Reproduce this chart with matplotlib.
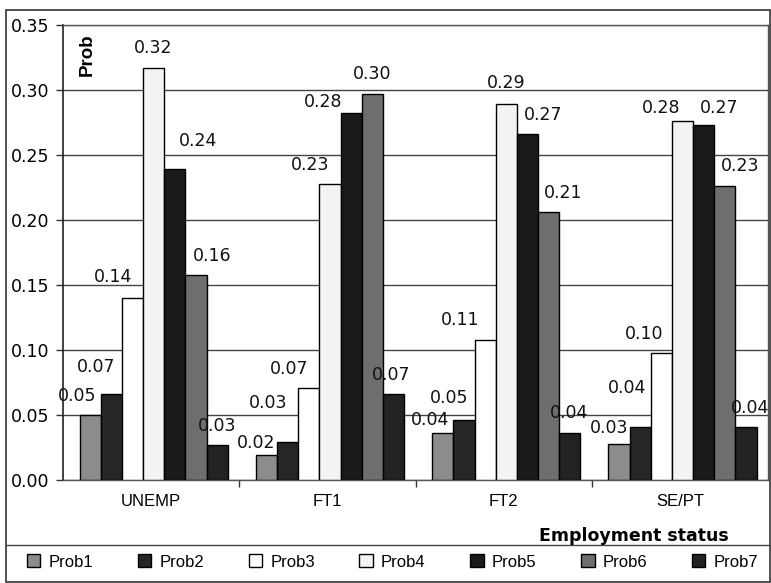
import matplotlib
matplotlib.use("Agg")
import matplotlib.pyplot as plt
from matplotlib.patches import Rectangle, Patch
from matplotlib.lines import Line2D
import numpy as np

# Employment status categories and predicted probabilities per outcome
categories = ["UNEMP", "FT1", "FT2", "SE/PT"]
series_names = ["Prob1", "Prob2", "Prob3", "Prob4", "Prob5", "Prob6", "Prob7"]
prob1 = [0.050, 0.019, 0.036, 0.028]
prob2 = [0.066, 0.029, 0.046, 0.041]
prob3 = [0.140, 0.071, 0.108, 0.098]
prob4 = [0.317, 0.228, 0.289, 0.276]
prob5 = [0.239, 0.282, 0.266, 0.273]
prob6 = [0.158, 0.297, 0.206, 0.226]
prob7 = [0.027, 0.066, 0.036, 0.041]
y_ticks = [0.00, 0.05, 0.10, 0.15, 0.20, 0.25, 0.30, 0.35]

series = [prob1, prob2, prob3, prob4, prob5, prob6, prob7]

# Bar fills (greyscale print style)
fills = ["#8c8c8c", "#262626", "#ffffff", "#f3f3f3", "#1a1a1a", "#6e6e6e", "#222222"]

# Label nudges in pixels (dx from bar centre, dy above bar top), per series x category
label_nudge = [
    [(-13, 19), (-10, 12), (-13, 13), (-10, 16)],
    [(-15, 27), (-20, 39), (-15, 22), (-13, 39)],
    [(-20, 21), (-20, 19), (-25, 20), (-17, 19)],
    [(-1, 20), (-20, 19), (0, 21), (-21, 13)],
    [(23, 28), (-28, 11), (16, 19), (15, 17)],
    [(16, 19), (0, 20), (15, 19), (15, 20)],
    [(0, 19), (-2, 19), (-1, 20), (4, 19)],
]

W, H = 771, 583
fig = plt.figure(figsize=(W / 100, H / 100), dpi=100)
ax = fig.add_axes([63 / W, 1 - 480 / H, 705 / W, 455 / H])

num_font = "DejaVu Sans"
txt_font = "Liberation Sans"

x = np.arange(len(categories))
bw = 0.12
n = len(series)
for j, vals in enumerate(series):
    pos = x + (j - (n - 1) / 2) * bw + 0.015
    ax.bar(pos, vals, width=bw, color=fills[j], edgecolor="black",
           linewidth=1.0, zorder=3, label=series_names[j])
    for i, v in enumerate(vals):
        dx, dy = label_nudge[j][i]
        ax.annotate(f"{v:.2f}", xy=(pos[i], v), xytext=(dx, dy),
                    textcoords="offset pixels", ha="center", va="center",
                    fontsize=12.5, family=num_font, color="#111111", zorder=5)

ax.set_xlim(-0.5, 3.5)
ax.set_ylim(0, 0.35)
ax.set_yticks(y_ticks)
ax.set_yticklabels([f"{t:.2f}" for t in y_ticks], family=num_font, fontsize=12.5)
ax.set_xticks(x)
ax.set_xticklabels(categories, family=txt_font, fontsize=12)
ax.set_xticks([0.5, 1.5, 2.5], minor=True)
ax.tick_params(axis="x", which="major", length=0, pad=10)
ax.tick_params(axis="x", which="minor", length=5, width=1, color="#333333")
ax.tick_params(axis="y", length=5, width=1, pad=5, color="#333333")

ax.yaxis.grid(True, color="#444444", linewidth=1.0, zorder=0)
ax.set_axisbelow(True)
for side in ["top", "right", "bottom"]:
    ax.spines[side].set_color("#555555")
    ax.spines[side].set_linewidth(1.0)
ax.spines["left"].set_color("#222222")
ax.spines["left"].set_linewidth(1.2)

ax.text(0.034, 0.935, "Prob", transform=ax.transAxes, rotation=90,
        ha="center", va="center", fontsize=13.5, fontweight="bold",
        family=txt_font)

fig.text(634 / W, 1 - 536 / H, "Employment status", ha="center", va="center",
         fontsize=12.5, fontweight="bold", family=num_font)

# Outer chart frame and legend separator
fig.patches.append(Rectangle((6 / W, 1 / H), 764 / W, 572 / H,
                             transform=fig.transFigure, fill=False,
                             edgecolor="#333333", linewidth=1.2))
fig.lines.append(Line2D([6 / W, 770 / W], [1 - 545 / H, 1 - 545 / H],
                        transform=fig.transFigure, color="#444444",
                        linewidth=1.0))

handles = [Patch(facecolor=fills[j], edgecolor="black", linewidth=1.0)
           for j in range(n)]
fig.legend(handles, series_names, loc="center", ncol=n, mode="expand",
           bbox_to_anchor=(20 / W, 1 - 575 / H, 745 / W, 26 / H),
           frameon=False, prop={"family": txt_font, "size": 12},
           handlelength=0.8, handleheight=0.8, handletextpad=0.5,
           borderaxespad=0)

fig.savefig("out.png", dpi=100)
